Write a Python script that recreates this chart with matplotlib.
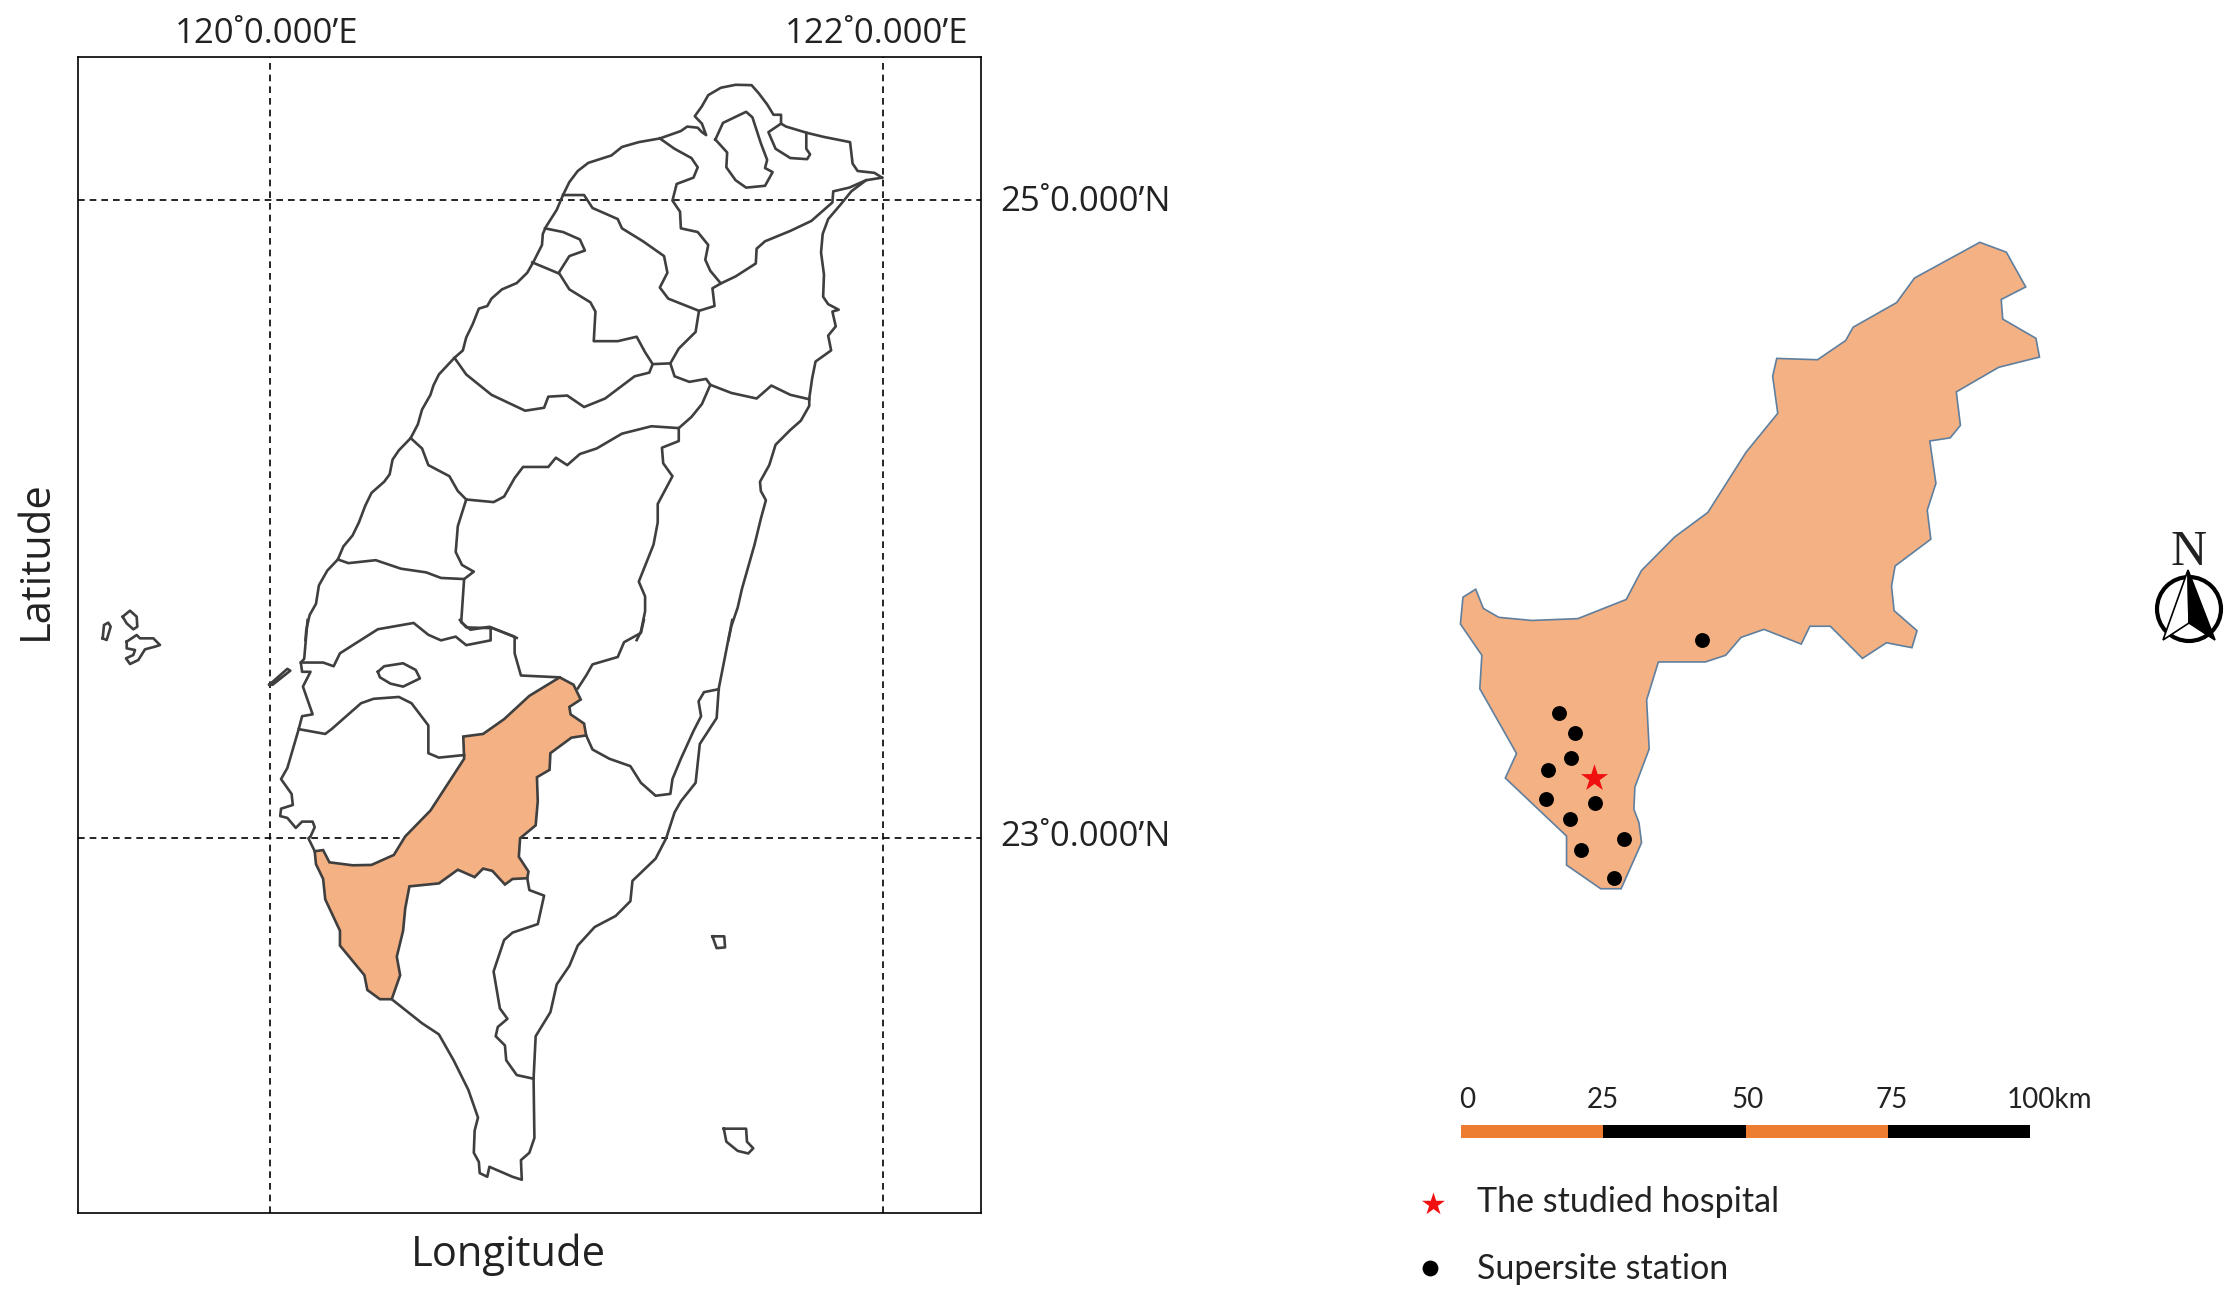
"""Mapa de Taiwan com o distrito estudado, estações e barra de escala."""

import matplotlib
matplotlib.use("Agg")
import matplotlib.pyplot as plt
from matplotlib.patches import Circle, Polygon

W, H = 2240, 1313
FILL = "#F4B183"
LINE = "#3F3F3F"

north_coast = [(1478,318),(1460,305),(1420,300),(1408,280),(1402,222),(1340,208),(1300,197),(1250,180),(1238,172),(1238,148),(1220,148),(1205,120),(1185,90),(1168,68),(1130,67),(1095,75),(1065,95),(1050,125),(1033,152),(1050,172),(1060,203),(1050,195),(1040,183),(1015,180),(1000,192),(950,212),(900,222),(860,235),(835,258),(780,278),(755,300),(735,330),(720,365),(705,405),(680,450),(672,470),(670,500),(650,545),(635,575),(610,603),(575,620),(550,645),(540,665),(520,672),(505,715),(490,750),(482,785),(462,805),(425,850),(412,880),(405,905),(385,945),(375,985),(358,1022),(330,1055),(315,1080),(308,1120),(295,1140),(265,1170),(250,1205),(235,1250),(220,1285),(198,1315),(185,1350),(160,1380),(140,1420),(133,1470),(118,1500),(110,1540),(108,1568)]
east_coast_n = [(1478,318),(1440,325),(1405,355),(1380,390),(1350,430),(1337,470),(1333,520),(1340,580),(1338,640),(1350,660),(1375,675),(1360,680),(1368,720),(1350,745),(1357,785),(1320,815),(1312,860),(1305,915),(1305,935),(1285,975),(1260,1000),(1225,1040),(1210,1095),(1188,1140),(1190,1165),(1202,1190),(1190,1240),(1175,1310),(1160,1370),(1145,1430),(1135,1480),(1120,1530),(1113,1568)]
borders_n = [
    [(1440,325),(1400,345),(1362,355),(1360,385),(1340,405),(1310,435),(1260,462),(1200,490),(1180,510),(1178,550),(1130,585),(1095,604)],
    [(950,212),(985,240),(1025,265),(1040,290),(1030,318),(990,335),(980,380),(998,410),(1000,455),(1040,465),(1065,500),(1058,540),(1070,570),(1095,604),(1075,617),(1080,665),(1043,678)],
    [(720,365),(770,365),(790,400),(850,430),(860,455),(910,490),(960,530),(968,575),(950,615),(970,645),(1043,678),(1035,735),(995,780),(975,820),(933,822),(915,790),(895,748),(850,760),(793,760),(797,680),(785,655),(735,620),(710,575),(735,530),(772,515),(760,485),(720,465),(677,455)],
    [(647,547),(710,577)],
    [(462,805),(490,850),(550,905),(630,948),(675,940),(685,910),(730,907),(770,938),(820,915),(890,855),(925,845),(933,822)],
    [(975,820),(985,855),(1020,870),(1060,862),(1070,878),(1120,900),(1180,915),(1215,880),(1260,905),(1305,917)],
    [(1070,878),(1050,930),(1025,965),(995,995),(930,990),(860,1010),(800,1050),(760,1065),(730,1095),(703,1075),(685,1100),(625,1100),(605,1130),(580,1180),(555,1195),(490,1188),(470,1165),(450,1125),(400,1095),(385,1050),(358,1022)],
    [(995,995),(995,1030),(955,1048),(958,1090),(980,1125),(945,1200),(945,1250),(935,1310),(900,1410),(915,1450),(915,1490),(905,1545),(895,1568)],
    [(490,1188),(470,1260),(465,1330),(480,1365),(508,1383),(485,1403)],
    [(185,1350),(210,1360),(275,1352),(335,1375),(395,1385),(430,1400),(485,1403),(478,1520),(500,1540),(545,1532),(610,1562)],
    [(1082,215),(1100,170),(1155,140),(1170,155),(1190,225),(1205,270),(1200,292),(1218,303),(1200,340),(1155,345),(1130,325),(1108,290),(1110,250),(1082,215)],
    [(1238,172),(1208,195),(1225,240),(1260,265),(1300,268),(1307,255),(1298,240),(1298,197)],
]

west_coast_s = [(113,0),(105,105),(97,115),(100,140),(120,140),(102,180),(125,255),(100,260),(92,295),(65,400),(50,430),(75,470),(78,500),(50,510),(48,530),(65,535),(85,562),(100,545),(125,545),(130,560),(120,585),(115,590),(130,625)]
district_s = [(130,625),(150,622),(165,655),(220,663),(265,662),(318,635),(345,585),(405,515),(485,375),(483,315),(530,308),(580,268),(640,205),(712,155),(745,175),(762,215),(735,235),(738,255),(770,280),(775,312),(740,318),(690,360),(688,405),(658,425),(660,490),(655,555),(618,590),(615,640),(638,680),(635,698),(600,700),(582,715),(552,678),(530,672),(510,695),(470,675),(425,712),(355,720),(345,780),(340,840),(325,910),(333,960),(313,1025),(285,1025),(255,1000),(248,960),(190,880),(190,840),(155,755),(150,700),(133,660)]
east_coast_s = [(1122,0),(1090,185),(1085,265),(1045,335),(1035,440),(1000,490),(985,520),(965,590),(940,645),(885,705),(880,760),(845,800),(795,830),(755,880),(735,935),(705,985),(690,1060),(655,1125),(650,1240),(652,1400),(640,1440),(620,1460),(622,1513),(600,1505),(545,1478),(540,1505),(522,1495),(520,1465),(508,1440),(510,1380),(518,1345),(495,1270),(460,1190),(425,1120),(385,1090),(313,1025)]
borders_s = [
    [(92,295),(155,308),(170,295),(240,225),(270,213),(330,208),(360,225),(400,285),(400,360),(425,372),(485,365)],
    [(97,115),(150,115),(175,125),(190,90),(280,25),(365,8),(400,40),(430,55),(465,45),(490,68),(548,55),(548,20),(605,45),(605,90),(620,150),(712,155)],
    [(475,0),(490,20),(548,22)],
    [(280,140),(295,125),(340,117),(370,135),(380,158),(340,180),(310,172),(285,155),(280,140)],
    [(775,312),(790,350),(830,375),(880,395),(905,440),(940,475),(975,470),(980,430),(1000,375),(1030,300),(1048,260),(1042,220),(1055,195),(1090,187)],
    [(912,0),(905,35),(865,60),(850,100),(790,120),(775,150),(755,185)],
    [(650,1240),(610,1230),(585,1190),(582,1150),(560,1125),(565,1100),(588,1078),(570,1050),(555,950),(580,865),(600,845),(660,822),(675,745),(640,730),(635,698)],
    [(1075,855),(1103,855),(1105,885),(1085,887),(1075,855)],
    [(1102,1375),(1155,1375),(1157,1410),(1172,1428),(1160,1442),(1135,1435),(1108,1410),(1102,1375)],
    [(22,175),(65,132),(72,137),(30,175),(22,175)],
]

# ilhas a oeste
penghu = [
    [(68,145),(72,105),(85,98),(92,110),(80,150),(68,145)],
    [(128,80),(150,62),(170,80),(172,110),(160,118),(140,100),(128,80)],
    [(140,155),(170,135),(180,145),(220,145),(240,165),(225,170),(195,178),(175,210),(150,222),(138,205),(160,195),(165,180),(140,175),(140,155)],
]

# distrito ampliado, estações e hospital
district_big = [(70,827),(45,845),(40,905),(82,975),(78,1050),(150,1195),(128,1250),(248,1380),(248,1445),(315,1498),(355,1498),(395,1395),(390,1350),(380,1320),(382,1270),(410,1185),(405,1075),(428,990),(520,990),(560,975),(590,935),(635,917),(708,950),(725,910),(765,910),(828,982),(875,947),(925,958),(935,920),(890,875),(885,820),(892,775),(962,715),(955,650),(972,590),(960,495),(1000,488),(1020,460),(1012,385),(1095,330),(1175,307),(1168,265),(1103,222),(1100,178),(1148,150),(1110,72),(1058,50),(930,130),(895,185),(810,240),(795,270),(740,313),(660,310),(652,350),(662,433),(600,520),(525,655),(460,710),(395,785),(365,850),(270,893),(180,897),(115,890),(85,870)]
stations = [(514,941),(234,1104),(265,1149),(257,1205),(211,1232),(207,1298),(303,1306),(254,1341),(360,1387),(276,1412),(342,1473)]
hospital = (301,1251)

scale_km = [0, 25, 50, 75]
scale_step = [25, 25, 25, 25]
scale_colors = ["#ED7D31", "black", "#ED7D31", "black"]
scale_labels = ["0", "25", "50", "75", "100km"]
scale_label_px = [1467, 1603, 1748, 1892, 2049]

lon_ticks = [120, 122]
lat_ticks = [23, 25]
lon_labels = ["120˚0.000’E", "122˚0.000’E"]
lat_labels = ["23˚0.000’N", "25˚0.000’N"]


def to_lon(px):
    return 120 + (px - 270) / 306.5


def to_lat(py):
    return 25 - (py - 200) / 319.0


def upper(pts):
    return [(to_lon(260 + u / 2.376), to_lat(60 + v / 2.703)) for u, v in pts]


def lower(pts):
    return [(to_lon(260 + u / 2.376), to_lat(620 + v / 2.703)) for u, v in pts]


def west(pts):
    return [(to_lon(80 + u / 3), to_lat(590 + v / 3)) for u, v in pts]


def big(pts):
    return [(1440 + u / 1.96, 220 + v / 2.24) for u, v in pts]


def desenhar(ax, pts, lw=1.9):
    ax.plot([p[0] for p in pts], [p[1] for p in pts], color=LINE, lw=lw,
            solid_joinstyle="round", zorder=3)


fig = plt.figure(figsize=(W / 100, H / 100), dpi=100, facecolor="white")

# mapa principal
ax = fig.add_axes([78 / W, 1 - 1213 / H, 903 / W, 1156 / H])
ax.set_xlim(to_lon(78), to_lon(981))
ax.set_ylim(to_lat(1213), to_lat(57))
ax.grid(True, color="black", ls=(0, (4, 3)), lw=1.2, zorder=1)
ax.set_axisbelow(True)
ax.set_xticks(lon_ticks)
ax.set_yticks(lat_ticks)
ax.tick_params(axis="both", length=0, bottom=False, labelbottom=False, left=False, labelleft=False)
for s in ax.spines.values():
    s.set_linewidth(1.2)

# rótulos de graus nas posições das linhas da grade
for lon, lab, dx in zip(lon_ticks, lon_labels, [-3, -6]):
    ax.annotate(lab, (lon, 1), xycoords=("data", "axes fraction"), xytext=(dx * 0.72, 4),
                textcoords="offset points", ha="center", va="bottom", fontname="Open Sans",
                fontsize=25, color="#222222", annotation_clip=False)
for lat, lab, dy in zip(lat_ticks, lat_labels, [1, -2]):
    ax.annotate(lab, (1, lat), xycoords=("axes fraction", "data"), xytext=(14, dy * 0.72),
                textcoords="offset points", ha="left", va="center", fontname="Open Sans",
                fontsize=25, color="#222222", annotation_clip=False)

ax.add_patch(Polygon(lower(district_s), closed=True, fc=FILL, ec=LINE, lw=1.9, zorder=2))
for pts in [north_coast, east_coast_n] + borders_n:
    desenhar(ax, upper(pts))
for pts in [west_coast_s, east_coast_s] + borders_s:
    desenhar(ax, lower(pts))
for pts in penghu:
    desenhar(ax, west(pts))

ax.set_xlabel("Longitude", fontname="Open Sans", fontsize=30, color="#222222")
ax.set_ylabel("Latitude", fontname="Open Sans", fontsize=30, color="#222222")
ax.xaxis.set_label_coords(0.477, -0.036)
ax.yaxis.set_label_coords(-0.0465, 0.565)
ax.xaxis.label.set_va("center")
ax.yaxis.label.set_va("center")

# painel direito em pixels
ov = fig.add_axes([0, 0, 1, 1])
ov.set_xlim(0, W)
ov.set_ylim(H, 0)
ov.axis("off")
ov.patch.set_alpha(0)

ov.add_patch(Polygon(big(district_big), closed=True, fc=FILL, ec="#5F7F9F", lw=1.2))
st = big(stations)
ov.scatter([p[0] for p in st], [p[1] for p in st], s=115, c="black", lw=0, zorder=4)
hx, hy = big([hospital])[0]
ov.scatter([hx], [hy], s=420, c="#F01010", marker="*", lw=0, zorder=4)

for px, lab in zip(scale_label_px, scale_labels):
    ov.text(px, 1100, lab, fontname="Lato", fontsize=20, ha="center", va="center", color="#222222")

ov.scatter([1433], [1204], s=300, c="#F01010", marker="*", lw=0)
ov.text(1477, 1202, "The studied hospital", fontname="Lato", fontsize=24.5, va="center", color="#222222")
ov.scatter([1430], [1268], s=130, c="black", lw=0)
ov.text(1477, 1269, "Supersite station", fontname="Lato", fontsize=24.5, va="center", color="#222222")

# rosa dos ventos
ov.text(2189, 553, "N", fontname="Liberation Serif", fontsize=36, ha="center", va="center", color="#222222")
ov.add_patch(Circle((2189, 609), 32, fc="white", ec="black", lw=3, zorder=5))
ov.add_patch(Polygon([(2188, 570), (2163, 640), (2189, 623)], closed=True, fc="white", ec="black", lw=1.2, zorder=6))
ov.add_patch(Polygon([(2188, 570), (2215, 640), (2189, 623)], closed=True, fc="black", ec="black", lw=1.2, zorder=6))

# barra de escala
sc = fig.add_axes([1461 / W, 1 - 1138 / H, 569 / W, 13.4 / H])
sc.barh([0], scale_step, left=scale_km, height=1, color=scale_colors)
sc.set_xlim(0, 100)
sc.set_ylim(-0.5, 0.5)
sc.axis("off")

fig.savefig("out.png", dpi=100)
